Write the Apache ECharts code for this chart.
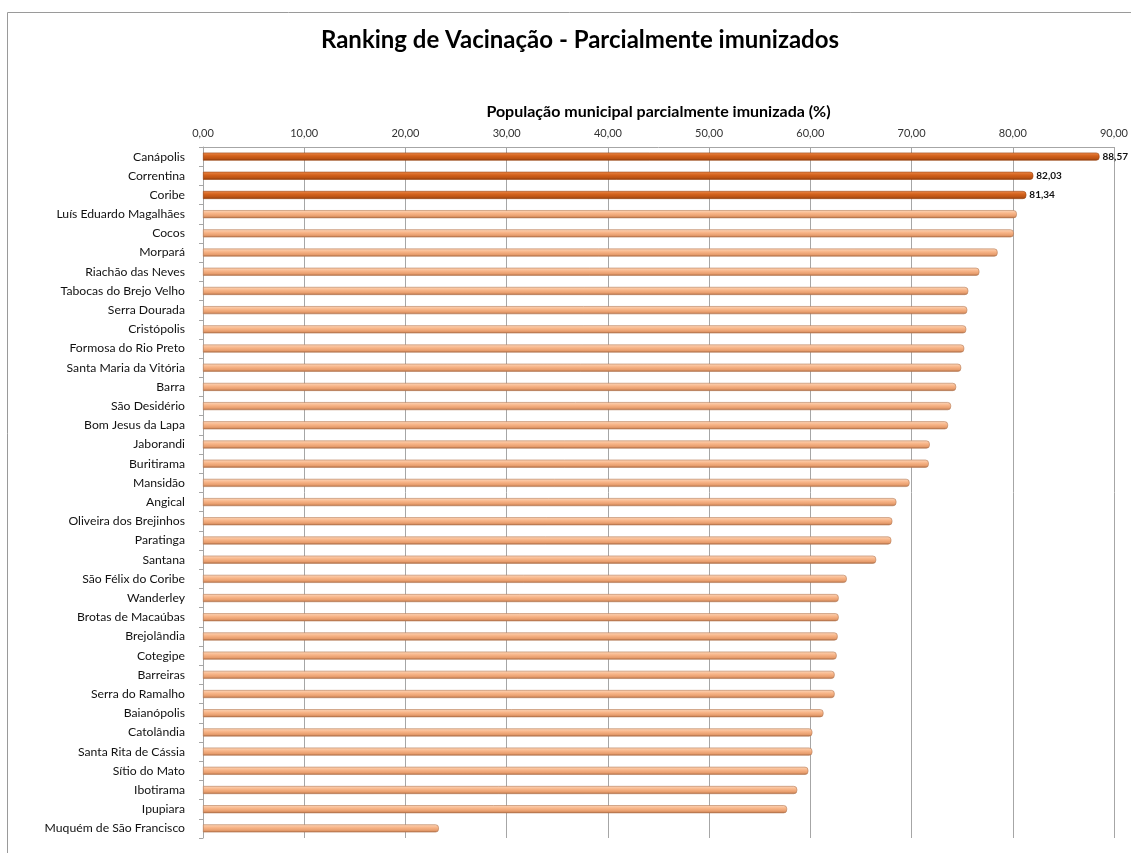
<!DOCTYPE html>
<html>
<head>
<meta charset="utf-8">
<script src="https://cdn.jsdelivr.net/npm/echarts@6/dist/echarts.min.js"></script>
<style>
html, body { margin: 0; padding: 0; background: #fff; }
#chart { width: 1131px; height: 853px; }
</style>
</head>
<body>
<div id="chart"></div>
<script>
var municipios = [
    "Canápolis", "Correntina", "Coribe", "Luís Eduardo Magalhães", "Cocos", "Morpará",
    "Riachão das Neves", "Tabocas do Brejo Velho", "Serra Dourada", "Cristópolis",
    "Formosa do Rio Preto", "Santa Maria da Vitória", "Barra", "São Desidério",
    "Bom Jesus da Lapa", "Jaborandi", "Buritirama", "Mansidão", "Angical",
    "Oliveira dos Brejinhos", "Paratinga", "Santana", "São Félix do Coribe", "Wanderley",
    "Brotas de Macaúbas", "Brejolândia", "Cotegipe", "Barreiras", "Serra do Ramalho",
    "Baianópolis", "Catolândia", "Santa Rita de Cássia", "Sítio do Mato", "Ibotirama",
    "Ipupiara", "Muquém de São Francisco"
];
var percentuais = [
    88.57, 82.03, 81.34, 80.4, 80.1, 78.5,
    76.7, 75.6, 75.5, 75.4,
    75.2, 74.9, 74.4, 73.9,
    73.6, 71.8, 71.7, 69.8, 68.5,
    68.1, 68.0, 66.5, 63.6, 62.8,
    62.8, 62.7, 62.6, 62.4, 62.4,
    61.3, 60.2, 60.2, 59.8, 58.7,
    57.7, 23.3
];
var destaques = 3; // primeiros colocados em cor escura

var myChart = echarts.init(document.getElementById("chart"));

function virgula(v) {
    return v.toFixed(2).replace(".", ",");
}

var claro = new echarts.graphic.LinearGradient(0, 0, 0, 1, [
    { offset: 0, color: "#fcd6ba" },
    { offset: 0.4, color: "#f8b588" },
    { offset: 0.75, color: "#e79d6d" },
    { offset: 1, color: "#a8673f" }
]);
var escuro = new echarts.graphic.LinearGradient(0, 0, 0, 1, [
    { offset: 0, color: "#ec8a4c" },
    { offset: 0.4, color: "#d4621c" },
    { offset: 0.75, color: "#bb5314" },
    { offset: 1, color: "#86390a" }
]);

var dados = [];
for (var i = 0; i < percentuais.length; i++) {
    dados.push({
        value: percentuais[i],
        itemStyle: {
            color: i < destaques ? escuro : claro,
            borderColor: i < destaques ? "#9c4510" : "#b57a55"
        },
        label: { show: i < destaques }
    });
}

var option = {
    animation: false,
    textStyle: { fontFamily: "Lato" },
    title: {
        text: "Ranking de Vacinação - Parcialmente imunizados",
        left: 575,
        textAlign: "center",
        top: 23,
        textStyle: { fontFamily: "Lato", fontSize: 24, fontWeight: "bold", color: "#000" }
    },
    graphic: [{
        type: "rect",
        shape: { x: 7.5, y: 12.5, width: 1140, height: 900 },
        style: { fill: null, stroke: "#9a9a9a", lineWidth: 1 },
        silent: true
    }],
    grid: { left: 203, right: 13, top: 147, bottom: 15 },
    xAxis: {
        type: "value",
        position: "top",
        min: 0,
        max: 90,
        interval: 10,
        name: "População municipal parcialmente imunizada (%)",
        nameLocation: "middle",
        nameGap: 27,
        nameTextStyle: { fontFamily: "Lato", fontSize: 16, fontWeight: "bold", color: "#000" },
        axisLine: { show: true, lineStyle: { color: "#a6a6a6" } },
        axisTick: { show: false },
        axisLabel: { formatter: virgula, fontSize: 11, color: "#333", margin: 8 },
        splitLine: { show: true, lineStyle: { color: "#a6a6a6", width: 1 } }
    },
    yAxis: {
        type: "category",
        inverse: true,
        data: municipios,
        offset: 4,
        axisLine: { show: true, lineStyle: { color: "#a6a6a6" } },
        axisTick: { show: true, length: 4, lineStyle: { color: "#a6a6a6" } },
        axisLabel: { fontSize: 12.2, color: "#111", margin: 14 }
    },
    series: [{
        type: "bar",
        data: dados,
        barWidth: 8,
        itemStyle: { borderWidth: 0.6, borderRadius: [0, 3, 3, 0] },
        label: {
            position: "right",
            distance: 3,
            formatter: function (p) { return virgula(p.value); },
            fontSize: 10,
            fontWeight: "bold",
            color: "#111"
        }
    }]
};
myChart.setOption(option);
</script>
</body>
</html>
